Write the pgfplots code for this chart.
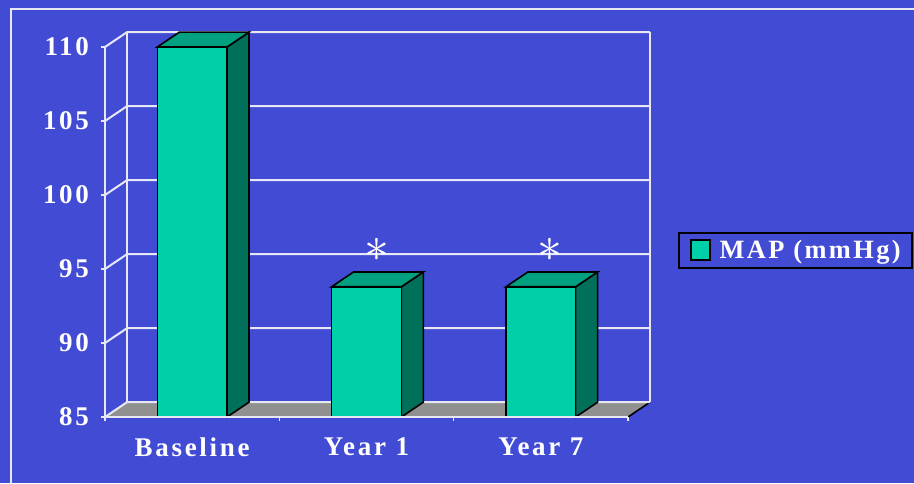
\documentclass[border=0pt]{standalone}
\usepackage{fontspec}
\usepackage{pgfplots}
\pgfplotsset{compat=1.18}
\newfontfamily\labfont{Liberation Serif}[LetterSpace=10]
\newfontfamily\legfont{Liberation Serif}[LetterSpace=9]
\definecolor{bgblue}{RGB}{66,75,212}
\definecolor{linecol}{RGB}{232,232,244}
\definecolor{barfront}{RGB}{0,208,168}
\definecolor{bartop}{RGB}{0,160,128}
\definecolor{barside}{RGB}{0,112,90}
\definecolor{floorgray}{RGB}{144,144,144}
\newcommand\threedbar[2]{%
  \pgfmathsetmacro\xl{#1-0.2}\pgfmathsetmacro\xr{#1+0.2}%
  \pgfmathsetmacro\xlb{#1-0.2+0.126}\pgfmathsetmacro\xrb{#1+0.2+0.126}%
  \pgfmathsetmacro\vb{#2+1}%
  \addplot[forget plot, mark=none, fill=barside, draw=black, line width=0.8pt]
    coordinates {(\xr,85) (\xr,#2) (\xrb,\vb) (\xrb,86)} -- cycle;
  \addplot[forget plot, mark=none, fill=bartop, draw=black, line width=0.8pt]
    coordinates {(\xl,#2) (\xr,#2) (\xrb,\vb) (\xlb,\vb)} -- cycle;
  \addplot[forget plot, mark=none, fill=barfront, draw=black, line width=0.8pt]
    coordinates {(\xl,85) (\xl,#2) (\xr,#2) (\xr,85)} -- cycle;
}
\begin{document}
\begin{tikzpicture}
\fill[bgblue] (0,0) rectangle (457pt,241.5pt);
\draw[linecol, line width=1pt] (5.5pt,-2pt) -- (5.5pt,237pt) -- (462pt,237pt);
\begin{axis}[
  at={(52.5pt,33pt)}, anchor=south west,
  x=87.165pt, y=7.4pt,
  xmin=-0.5, xmax=2.5, ymin=85, ymax=110,
  clip=false, axis on top,
  axis x line*=bottom, axis y line*=left,
  axis line style={linecol, line width=1pt, -},
  ytick={85,90,95,100,105,110},
  yticklabels={85,90,95,100,105,110},
  xtick={-0.5,0.5,1.5,2.5},
  xticklabels={,,,},
  extra x ticks={0,1,2},
  extra x tick labels={Baseline,Year 1,Year 7},
  extra x tick style={major tick length=0pt},
  major tick length=2pt,
  tick align=outside,
  tick style={linecol, line width=0.8pt},
  ticklabel style={font=\labfont\bfseries\fontsize{13.5pt}{14pt}\selectfont, text=white},
  xticklabel style={yshift=-7pt},
  yticklabel style={xshift=-2.5pt},
  legend style={at={(1.0956,0.45)}, anchor=west, draw=black, line width=1pt,
    fill=bgblue, text=white, inner xsep=5.5pt, inner ysep=3.25pt,
    nodes={inner sep=0pt}, column sep=4.5pt,
    font=\legfont\bfseries\fontsize{13.2pt}{14pt}\selectfont},
  legend cell align=left,
]
% floor
\fill[floorgray] (axis cs:-0.5,85) -- (axis cs:2.5,85) -- (axis cs:2.626,86) -- (axis cs:-0.374,86) -- cycle;
\draw[black, line width=0.8pt] (axis cs:2.5,85) -- (axis cs:2.626,86);
% walls and grid
\pgfplotsinvokeforeach{85,90,95,100,105,110}{
  \draw[linecol, line width=1pt] (axis cs:-0.5,#1) -- (axis cs:-0.374,#1+1) -- (axis cs:2.626,#1+1);
}
\draw[linecol, line width=1pt] (axis cs:-0.374,86) -- (axis cs:-0.374,111);
\draw[linecol, line width=1pt] (axis cs:2.626,86) -- (axis cs:2.626,111);
% bars
\threedbar{0}{110}
\threedbar{1}{93.8}
\threedbar{2}{93.8}
% significance marks
\node[text=white, font=\fontsize{28pt}{28pt}\selectfont] at (axis cs:1.06,96.3) {$\ast$};
\node[text=white, font=\fontsize{28pt}{28pt}\selectfont] at (axis cs:2.05,96.3) {$\ast$};
\addlegendimage{legend image code/.code={\draw[fill=barfront,draw=black,line width=0.8pt] (0pt,-4.5pt) rectangle (9.5pt,5.5pt);}}
\addlegendentry{MAP (mmHg)}
\end{axis}
\pgfresetboundingbox
\useasboundingbox (0,0) rectangle (457pt,241.5pt);
\end{tikzpicture}
\end{document}
